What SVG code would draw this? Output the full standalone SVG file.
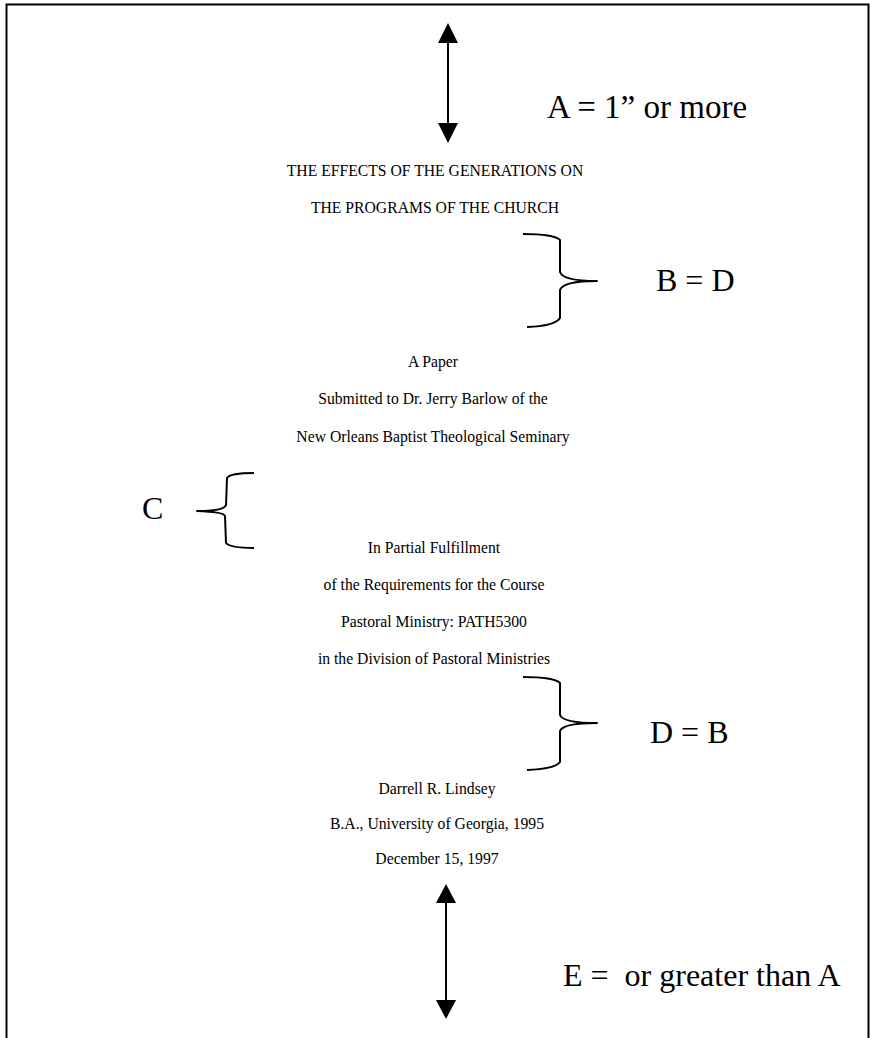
<svg xmlns="http://www.w3.org/2000/svg" width="871" height="1038" viewBox="0 0 871 1038">
<style>
.body{font-family:"Liberation Serif","Times New Roman",serif;font-size:15.7px;fill:#000;text-anchor:middle}
.lbl{font-family:"Liberation Serif","Times New Roman",serif;font-size:32px;fill:#000}
.ln{stroke:#000;stroke-width:2;fill:none}
.br{stroke:#000;stroke-width:2;fill:none;stroke-linejoin:round}
.head{fill:#000}
</style>
<rect width="871" height="1038" fill="#fff"/>
<path class="ln" d="M6.5,1038 V4.5 H868.5 V1038"/>
<g id="connectors">
  <g id="arrowA">
    <line class="ln" x1="448" y1="40" x2="448" y2="126"/>
    <polygon class="head" points="448,23 438,43 458,43"/>
    <polygon class="head" points="448,143 438,123 458,123"/>
  </g>
  <g id="arrowE">
    <line class="ln" x1="446" y1="900" x2="446" y2="1003"/>
    <polygon class="head" points="446,884 436,903 456,903"/>
    <polygon class="head" points="446,1019 436,1000 456,1000"/>
  </g>
  <path id="braceB" class="br" d="M523,234 Q554,234 560,240 L560,272 Q563,281 597,281 Q563,281 560,290 L560,318 Q555,326 527,327"/>
  <path id="braceD" class="br" d="M523,677 Q554,677 560,683 L560,715 Q563,723 597,723 Q563,723 560,731 L560,762 Q555,769 527,770"/>
  <path id="braceC" class="br" d="M254,473 Q230,473 227,478 L226,505 Q224,511 197,511 Q224,512 225,516 L226,543 Q230,548 254,548"/>
</g>
<g id="title">
  <text class="body" x="435" y="176">THE EFFECTS OF THE GENERATIONS ON</text>
  <text class="body" x="435" y="213">THE PROGRAMS OF THE CHURCH</text>
</g>
<g id="submission">
  <text class="body" x="433" y="367">A Paper</text>
  <text class="body" x="433" y="404">Submitted to Dr. Jerry Barlow of the</text>
  <text class="body" x="433" y="442">New Orleans Baptist Theological Seminary</text>
</g>
<g id="fulfillment">
  <text class="body" x="434" y="553">In Partial Fulfillment</text>
  <text class="body" x="434" y="590">of the Requirements for the Course</text>
  <text class="body" x="434" y="627">Pastoral Ministry: PATH5300</text>
  <text class="body" x="434" y="664">in the Division of Pastoral Ministries</text>
</g>
<g id="author">
  <text class="body" x="437" y="794">Darrell R. Lindsey</text>
  <text class="body" x="437" y="829">B.A., University of Georgia, 1995</text>
  <text class="body" x="437" y="864">December 15, 1997</text>
</g>
<g id="labels">
  <text id="labelA" class="lbl" x="547" y="118" style="font-size:33px">A = 1” or more</text>
  <text id="labelB" class="lbl" x="656" y="291">B = D</text>
  <text id="labelC" class="lbl" x="142" y="519">C</text>
  <text id="labelD" class="lbl" x="650" y="743">D = B</text>
  <text id="labelE" class="lbl" x="563" y="986" xml:space="preserve">E =  or greater than A</text>
</g>
</svg>
